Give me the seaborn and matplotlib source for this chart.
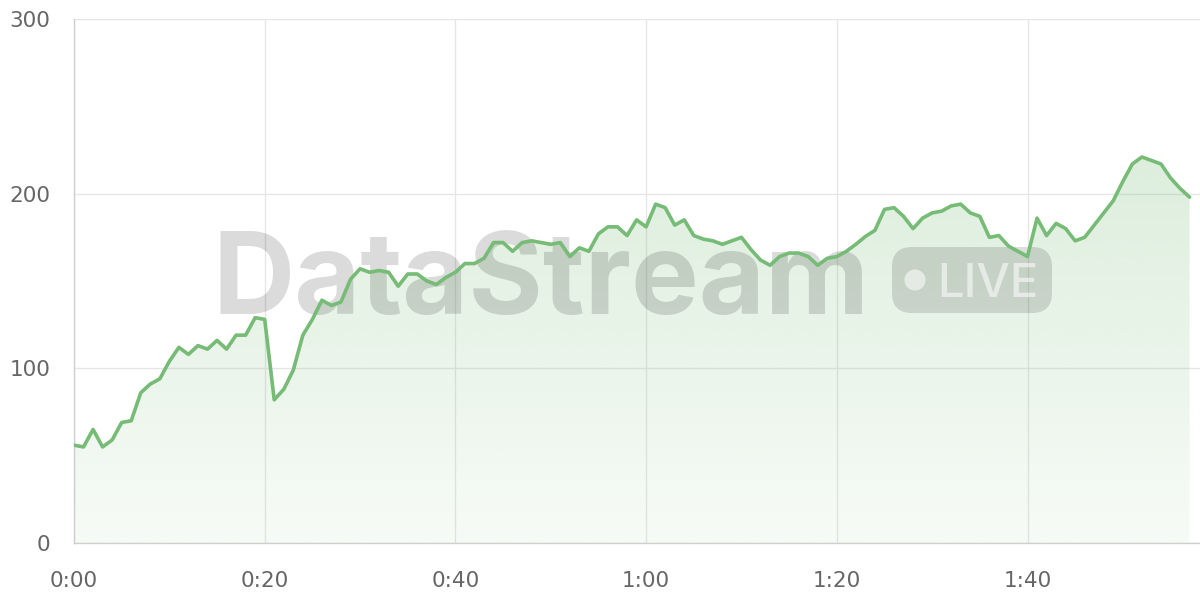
import numpy as np
import pandas as pd
import matplotlib
matplotlib.use("Agg")
import matplotlib.pyplot as plt
import matplotlib.transforms as mtransforms
from matplotlib.patches import FancyBboxPatch, Circle
import seaborn as sns

# ---------------- data ----------------
seconds = np.arange(118)
values = [56, 55, 65, 55, 59, 69, 70, 86, 91, 94,
          104, 112, 108, 113, 111, 116, 111, 119, 119, 129,
          128, 82, 88, 99, 119, 128, 139, 136, 138, 151,
          157, 155, 156, 155, 147, 154, 154, 150, 148, 152,
          155, 160, 160, 163, 172, 172, 167, 172, 173, 172,
          171, 172, 164, 169, 167, 177, 181, 181, 176, 185,
          181, 194, 192, 182, 185, 176, 174, 173, 171, 173,
          175, 168, 162, 159, 164, 166, 166, 164, 159, 163,
          164, 167, 171, 175.5, 179, 191, 192, 187, 180, 186,
          189, 190, 193, 194, 189, 187, 175, 176, 170, 167,
          164, 186, 176, 183, 180, 173, 175, 182, 189, 196,
          207, 217, 221, 219, 217, 209, 203, 198]
x_ticks = [0, 20, 40, 60, 80, 100]
x_tick_labels = ["0:00", "0:20", "0:40", "1:00", "1:20", "1:40"]
y_ticks = [0, 100, 200, 300]
y_tick_labels = ["0", "100", "200", "300"]
watermark = "DataStream"
badge = "LIVE"

df = pd.DataFrame({"t": seconds, "v": values})

LINE = "#76bb76"
GRID = "#e6e6e6"
SPINE = "#cfcfcf"
LABEL = "#666666"

sns.set_theme(style="whitegrid")
plt.rcParams["font.family"] = ["DejaVu Sans"]

fig = plt.figure(figsize=(12, 6), dpi=100)
L, R, B, T = 74 / 1200, 1.0, 1 - 543 / 600, 1 - 19 / 600
ax = fig.add_axes([L, B, R - L, T - B])
ax.set_facecolor("white")

# gradient fill under the line
poly = ax.fill_between(df["t"], df["v"], 0, color="none", lw=0, zorder=1)
vmax = max(values)
grad = np.linspace(0.06, 0.25, 256).reshape(-1, 1)
rgba = np.zeros((256, 1, 4))
rgba[..., 0] = 0x76 / 255
rgba[..., 1] = 0xbb / 255
rgba[..., 2] = 0x76 / 255
rgba[..., 3] = grad
im = ax.imshow(rgba, extent=[0, seconds[-1], 0, vmax], origin="lower",
               aspect="auto", zorder=1, interpolation="bilinear")
im.set_clip_path(poly.get_paths()[0], transform=ax.transData)

# line
sns.lineplot(data=df, x="t", y="v", color=LINE, linewidth=2.6, ax=ax, zorder=4)
for ln in ax.lines:
    ln.set_solid_joinstyle("round")
    ln.set_solid_capstyle("round")

# watermark (inside axes, between fill and line); pixel coords (top-left origin)
pix = mtransforms.Affine2D().scale(1, -1).translate(0, 600)

ax.text(212, 314, watermark, transform=pix, ha="left", va="baseline",
        fontsize=82, fontweight="bold", family=["Inter", "DejaVu Sans"],
        color=(0, 0, 0, 0.14), zorder=2)

pill = FancyBboxPatch((892, 247), 160, 66,
                      boxstyle="round,pad=0,rounding_size=20",
                      transform=pix, facecolor=(0, 0, 0, 0.13),
                      edgecolor="none", zorder=2)
ax.add_patch(pill)
ax.add_patch(Circle((915, 280), 10.5, transform=pix,
                    facecolor=(1, 1, 1, 0.55), edgecolor="none", zorder=2.5))
ax.text(937, 297, badge, transform=pix, ha="left", va="baseline",
        fontsize=34, fontweight="medium", family=["Inter", "DejaVu Sans"],
        color=(1, 1, 1, 0.55), zorder=2.5)

# axes styling
ax.set_xlim(0, (1200 - 74) / 9.535)
ax.set_ylim(0, 300)
ax.set_xticks(x_ticks)
ax.set_xticklabels(x_tick_labels)
ax.set_yticks(y_ticks)
ax.set_yticklabels(y_tick_labels)
ax.set_xlabel("")
ax.set_ylabel("")
ax.grid(True, color=GRID, linewidth=1)
ax.set_axisbelow(True)
for s in ["top", "right"]:
    ax.spines[s].set_visible(False)
for s in ["left", "bottom"]:
    ax.spines[s].set_visible(True)
    ax.spines[s].set_color(SPINE)
    ax.spines[s].set_linewidth(1)
ax.tick_params(axis="x", length=10, width=1, color=GRID, pad=10,
               labelsize=15.5, labelcolor=LABEL)
ax.tick_params(axis="y", length=11.5, width=1, color=GRID, pad=5.5,
               labelsize=15.5, labelcolor=LABEL)

fig.savefig("out.png", dpi=100, facecolor="white")
